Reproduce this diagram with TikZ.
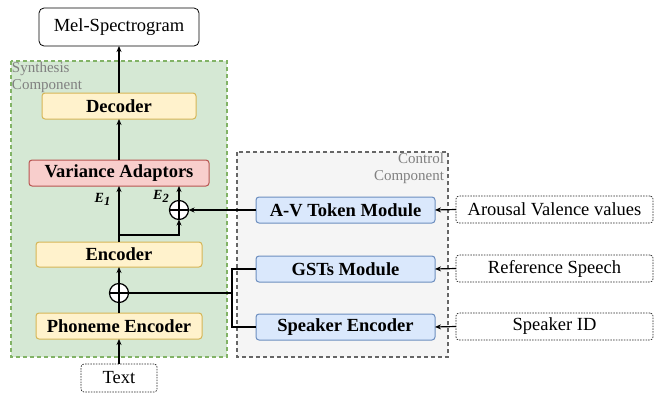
\documentclass[tikz,border=0pt]{standalone}
\usepackage{fontspec}
\setmainfont{LiberationSerif}[Extension=.ttf, UprightFont=*-Regular, BoldFont=*-Bold, ItalicFont=*-Italic, BoldItalicFont=*-BoldItalic]
\usetikzlibrary{arrows.meta}
\definecolor{gfill}{HTML}{D5E8D4}\definecolor{gline}{HTML}{82B366}
\definecolor{yfill}{HTML}{FFF2CC}\definecolor{yline}{HTML}{D6B656}
\definecolor{rfill}{HTML}{F8CECC}\definecolor{rline}{HTML}{B85450}
\definecolor{bfill}{HTML}{DAE8FC}\definecolor{bline}{HTML}{6C8EBF}
\definecolor{cfill}{HTML}{F5F5F5}\definecolor{cline}{HTML}{666666}
\definecolor{labgray}{HTML}{808080}
\tikzset{
  every node/.style={inner sep=0pt, outer sep=0pt},
  box/.style={draw, rounded corners=3pt, line width=1pt, font=\fontsize{18.5}{20}\selectfont\bfseries},
  ybox/.style={box, fill=yfill, draw=yline},
  rbox/.style={box, fill=rfill, draw=rline},
  bbox/.style={box, fill=bfill, draw=bline},
  inbox/.style={draw=black!85, rounded corners=3pt, line width=0.7pt, dash pattern=on 1.5pt off 1.2pt, fill=white, font=\fontsize{18.5}{20}\selectfont},
  plusnode/.style={circle, draw, fill=white, line width=1.2pt, minimum size=19pt,
    path picture={\draw[line width=1.2pt] (path picture bounding box.north) -- (path picture bounding box.south) (path picture bounding box.west) -- (path picture bounding box.east);}},
  conn/.style={line width=1.2pt, -{Stealth[length=6pt,width=5pt]}},
  line/.style={line width=1.2pt},
  grouplab/.style={text=labgray, font=\fontsize{15}{17.5}\selectfont},
  elab/.style={font=\fontsize{14}{16}\selectfont\bfseries\itshape}
}
\newcommand{\elabel}[1]{E\raisebox{-3.5pt}{\fontsize{12.5}{12.5}\selectfont #1}}
\begin{document}
\begin{tikzpicture}[x=1pt,y=-1pt]
\useasboundingbox (0,0) rectangle (654,394);
% group boxes
\draw[fill=gfill, draw=gline, line width=1.3pt, dash pattern=on 4pt off 3pt] (11,61) rectangle (227,357);
\draw[fill=cfill, draw=cline, line width=1.2pt, dash pattern=on 4pt off 3pt] (237,152) rectangle (448,357);
\node[grouplab, anchor=north west, align=left] (synlab) at (12,62) {Synthesis\\Component};
\node[grouplab, anchor=north east, align=right] (ctllab) at (444,153) {Control\\Component};
% nodes
\node[draw, rounded corners=5pt, line width=0.8pt, fill=white, minimum width=160pt, minimum height=38pt, font=\fontsize{18.5}{20}\selectfont] (mel) at (119,27) {Mel-Spectrogram};
\node[ybox, minimum width=154pt, minimum height=26pt] (dec) at (119,106) {Decoder};
\node[rbox, minimum width=180pt, minimum height=26pt] (va) at (119,173) {Variance Adaptors};
\node[ybox, minimum width=166pt, minimum height=25pt] (enc) at (119,254.5) {Encoder};
\node[ybox, minimum width=166pt, minimum height=26pt] (pho) at (119,326) {Phoneme Encoder};
\node[inbox, minimum width=76pt, minimum height=28pt] (txt) at (119,378) {Text};
\node[bbox, minimum width=179pt, minimum height=26pt] (av) at (345.5,210) {A-V Token Module};
\node[bbox, minimum width=179pt, minimum height=26pt] (gst) at (345.5,269) {GSTs Module};
\node[bbox, minimum width=179pt, minimum height=26pt] (spk) at (345.5,327) {Speaker Encoder};
\node[inbox, minimum width=197pt, minimum height=27pt] (aro) at (554.5,209.5) {Arousal Valence values};
\node[inbox, minimum width=197pt, minimum height=27pt] (ref) at (554.5,268.5) {Reference Speech};
\node[inbox, minimum width=197pt, minimum height=27pt] (sid) at (554.5,326.5) {Speaker ID};
\node[plusnode] (p1) at (119,293) {};
\node[plusnode] (p2) at (179,210) {};
\node[elab, anchor=base] (e1) at (102.5,202) {\elabel{1}};
\node[elab, anchor=base] (e2) at (161,199) {\elabel{2}};
\coordinate (br) at (119,235);
\coordinate (jn) at (232,293);
\coordinate (va2) at (179,186);
% connectors
\draw[conn] (txt.north) -- (pho.south);
\draw[line] (pho.north) -- (p1.south);
\draw[conn] (p1.north) -- (enc.south);
\draw[conn] (enc.north) -- (va.south);
\draw[conn] (br) -| (p2.south);
\draw[conn] (p2.north) -- (va2);
\draw[conn] (va.north) -- (dec.south);
\draw[conn] (dec.north) -- (mel.south);
\draw[conn] (av.west) -- (p2.east);
\draw[line] (gst.west) -- ++(-24,0) |- (spk.west);
\draw[line] (jn) -- (p1.east);
\draw[conn] (aro.west) -- (av.east);
\draw[conn] (ref.west) -- (gst.east);
\draw[conn] (sid.west) -- (spk.east);
\end{tikzpicture}
\end{document}
